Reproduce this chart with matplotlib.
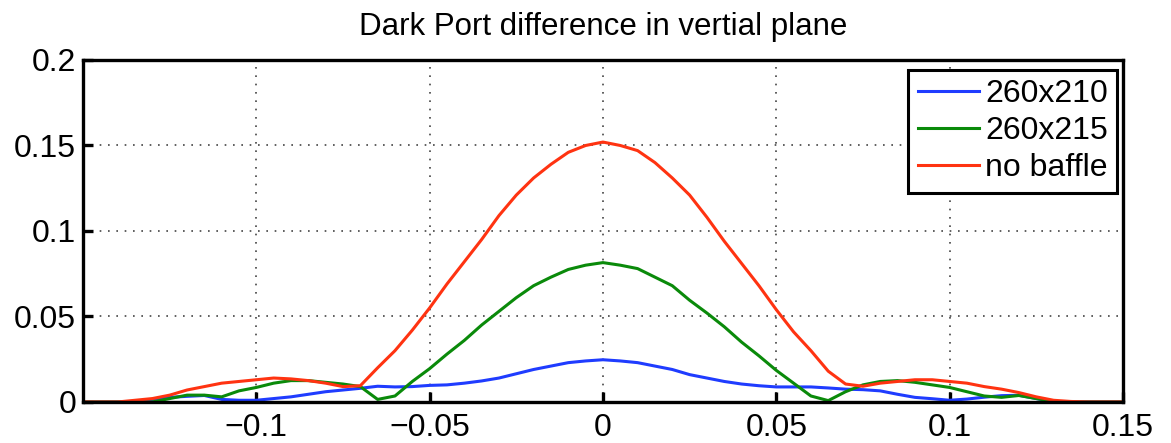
import numpy as np
import matplotlib
matplotlib.use("Agg")
import matplotlib.pyplot as plt

plt.rcParams['font.family'] = ['Liberation Sans', 'DejaVu Sans']

# posicao (eixo x) comum as tres curvas
x = np.round(np.arange(-0.15, 0.1501, 0.005), 3)

# 260x210
blue = [0, 0, 0, 0, 0.0015, 0.0027, 0.0033, 0.0038, 0.0015, 0.001,
        0.001, 0.002, 0.003, 0.0045, 0.006, 0.007, 0.008, 0.0092, 0.0088, 0.009,
        0.0097, 0.010, 0.011, 0.0123, 0.014, 0.0165, 0.019, 0.021, 0.023, 0.024,
        0.0247,
        0.024, 0.023, 0.021, 0.019, 0.016, 0.014, 0.012, 0.0105, 0.0095, 0.0088,
        0.0088, 0.0088, 0.0082, 0.0075, 0.0072, 0.0065, 0.0045, 0.0027, 0.0019, 0.001,
        0.0017, 0.0028, 0.0037, 0.0039, 0.002, 0.0003, 0, 0, 0, 0]

# 260x215
green = [0, 0, 0, 0, 0, 0.002, 0.004, 0.004, 0.003, 0.0065,
         0.0085, 0.011, 0.0125, 0.0125, 0.0115, 0.0105, 0.009, 0.0015, 0.0035, 0.012,
         0.0195, 0.028, 0.036, 0.045, 0.053, 0.061, 0.068, 0.073, 0.0775, 0.080,
         0.0815,
         0.080, 0.078, 0.073, 0.068, 0.0595, 0.052, 0.044, 0.035, 0.027, 0.0185,
         0.011, 0.0035, 0.0008, 0.006, 0.010, 0.012, 0.0125, 0.0115, 0.010, 0.0085,
         0.006, 0.0035, 0.0027, 0.0038, 0.002, 0.0003, 0, 0, 0, 0]

# no baffle
red = [0, 0, 0, 0.001, 0.002, 0.004, 0.007, 0.009, 0.011, 0.012,
       0.013, 0.014, 0.0135, 0.0125, 0.011, 0.009, 0.0095, 0.020, 0.030, 0.042,
       0.055, 0.069, 0.082, 0.095, 0.109, 0.121, 0.131, 0.139, 0.146, 0.150,
       0.152,
       0.150, 0.147, 0.140, 0.131, 0.121, 0.108, 0.094, 0.081, 0.068, 0.054,
       0.041, 0.030, 0.018, 0.0105, 0.0092, 0.011, 0.012, 0.013, 0.013, 0.012,
       0.011, 0.009, 0.0075, 0.0055, 0.003, 0.001, 0.0003, 0, 0, 0]

labels = ["260x210", "260x215", "no baffle"]
cores = ["#1f3cff", "#0a8a0a", "#ff3311"]

fig = plt.figure(figsize=(11.71, 4.43), dpi=100)
ax = fig.add_axes([0.0709, 0.0926, 0.888, 0.772])

for y, lab, c in zip([blue, green, red], labels, cores):
    ax.plot(x, y, color=c, lw=2.2, label=lab)

ax.set_xlim(-0.15, 0.15)
ax.set_ylim(0, 0.2)
ax.set_xticks([-0.1, -0.05, 0, 0.05, 0.1, 0.15])
ax.set_xticklabels(["\u22120.1", "\u22120.05", "0", "0.05", "0.1", "0.15"])
ax.set_yticks([0, 0.05, 0.1, 0.15, 0.2])
ax.set_yticklabels(["0", "0.05", "0.1", "0.15", "0.2"])
ax.tick_params(direction="in", length=7, width=2.4, labelsize=23)
ax.tick_params(axis="x", pad=8)
ax.tick_params(axis="y", pad=5)
for s in ax.spines.values():
    s.set_linewidth(2.4)
ax.grid(True, color="#444444", linestyle=(0, (1, 4)), linewidth=1.2)
ax.set_title("Dark Port difference in vertial plane", fontsize=22.5, pad=18)

leg = ax.legend(loc="upper right", bbox_to_anchor=(1.004, 1.0), fontsize=23,
                fancybox=False, framealpha=1, edgecolor="black",
                handlelength=1.9, handletextpad=0.2, borderpad=0.3,
                labelspacing=0.22, borderaxespad=0.3)
leg.get_frame().set_linewidth(2.2)

fig.savefig("out.png", dpi=100)
